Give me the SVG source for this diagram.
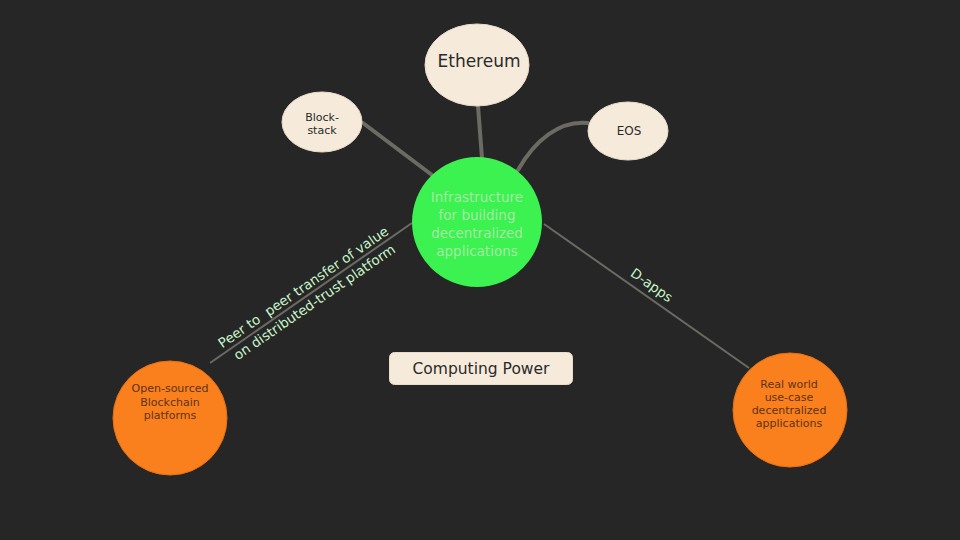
<svg xmlns="http://www.w3.org/2000/svg" width="960" height="540" viewBox="0 0 960 540">
<style>
.bg{fill:#262626}
.cream{fill:#f6eadb;stroke:#e8dccb;stroke-width:1}
.orange{fill:#fa7f1d;stroke:#e87010;stroke-width:1}
.green{fill:#3cf250}
.t{font-family:"DejaVu Sans","Noto Sans",sans-serif;text-anchor:middle}
.dark{fill:#2a2a2a}
.brown{fill:#5a3417}
.gt{fill:#a4eaa4}
.lbl{fill:#c8f5c8;font-size:13.5px;white-space:pre}
.thick{fill:none;stroke:#6b6b64;stroke-width:4;stroke-linecap:round}
.thin{fill:none;stroke:#6b6b64;stroke-width:2}
</style>
<rect class="bg" x="0" y="0" width="960" height="540"/>
<g id="connectors">
<line class="thick" x1="478" y1="106" x2="482" y2="158"/>
<line class="thick" x1="363" y1="123" x2="432" y2="175"/>
<path class="thick" d="M588,123 C560,120 535,140 518,170"/>
<line class="thin" x1="412" y1="223" x2="210" y2="363"/>
<line class="thin" x1="544" y1="224" x2="749" y2="368"/>
<text class="t lbl" xml:space="preserve" transform="translate(306,291) rotate(-34.5)">Peer to  peer transfer of value</text>
<text class="t lbl" transform="translate(317,306) rotate(-34.5)">on distributed-trust platform</text>
<text class="t lbl" transform="translate(649,289) rotate(35)">D-apps</text>
</g>
<g id="ethereum">
<ellipse class="cream" cx="477" cy="65" rx="52" ry="41"/>
<text class="t dark" x="479" y="67" font-size="17">Ethereum</text>
</g>
<g id="blockstack">
<ellipse class="cream" cx="322" cy="122" rx="40" ry="30"/>
<text class="t dark" x="322" y="121" font-size="11">Block-</text>
<text class="t dark" x="322" y="134" font-size="11">stack</text>
</g>
<g id="eos">
<ellipse class="cream" cx="628" cy="131" rx="40" ry="29"/>
<text class="t dark" x="629" y="135" font-size="12">EOS</text>
</g>
<g id="infrastructure">
<circle class="green" cx="477" cy="222" r="65"/>
<text class="t gt" x="477" y="202" font-size="13.5">Infrastructure</text>
<text class="t gt" x="477" y="220" font-size="13.5">for building</text>
<text class="t gt" x="477" y="238" font-size="13.5">decentralized</text>
<text class="t gt" x="477" y="256" font-size="13.5">applications</text>
</g>
<g id="opensourced">
<circle class="orange" cx="170" cy="418" r="57"/>
<text class="t brown" x="170" y="392" font-size="11">Open-sourced</text>
<text class="t brown" x="170" y="406" font-size="11">Blockchain</text>
<text class="t brown" x="170" y="419" font-size="11">platforms</text>
</g>
<g id="realworld">
<circle class="orange" cx="790" cy="410" r="57"/>
<text class="t brown" x="789" y="388" font-size="11">Real world</text>
<text class="t brown" x="789" y="401" font-size="11">use-case</text>
<text class="t brown" x="789" y="414" font-size="11">decentralized</text>
<text class="t brown" x="789" y="427" font-size="11">applications</text>
</g>
<g id="computing">
<rect x="389.500" y="352.500" width="183" height="32" rx="5" fill="#f6eadb" stroke="#e8dccb"/>
<text class="t dark" x="481" y="374" font-size="15.5">Computing Power</text>
</g>
</svg>
